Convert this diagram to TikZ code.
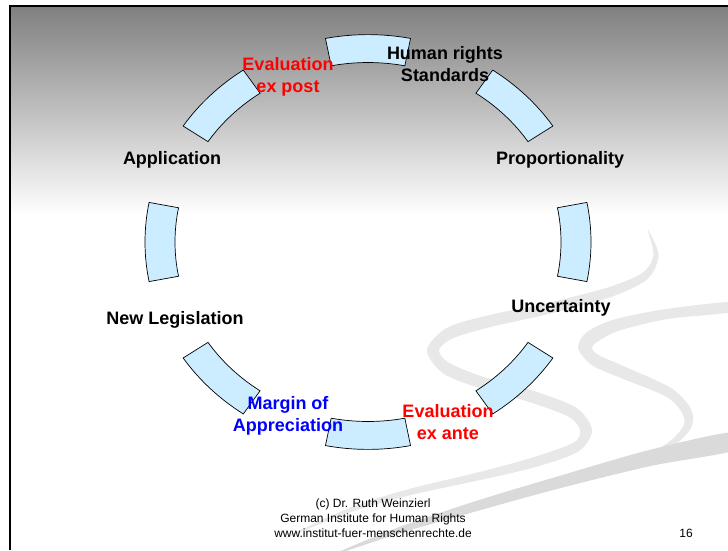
\documentclass[tikz,border=0pt]{standalone}
\usepackage{fontspec}
\setmainfont{Liberation Sans}
\usepackage{tikz}
\definecolor{segblue}{HTML}{CCECFF}
\definecolor{evalred}{HTML}{FF0000}
\definecolor{marginblue}{HTML}{0000FF}
\definecolor{slidegray}{HTML}{808080}
\definecolor{swooshlight}{HTML}{E8E8E8}
\definecolor{swooshdark}{HTML}{DADADA}
\tikzset{
  rseg/.style={draw=black,line width=0.7pt,fill=segblue},
  clabel/.style={font=\fontsize{18}{22}\selectfont\bfseries,align=center,inner sep=0pt},
  flabel/.style={font=\fontsize{12}{15}\selectfont,align=center,inner sep=0pt}
}

\begin{document}
\begin{tikzpicture}[x=1pt,y=-1pt]
\useasboundingbox (0,0) rectangle (728,550);
% slide background and frame
\shade[top color=slidegray,bottom color=white] (11,7) rectangle (728,215);
\draw[line width=2pt] (10,550) -- (10,6) -- (728,6);
% swooshes
\fill[swooshlight] plot[smooth cycle] coordinates {(648,230) (658.5,255) (647.5,279) (611.7,296.7) (551.3,313.3) (491.4,326.8) (453.1,338.2) (439,350) (449.1,362.8) (482,376.4) (532,390.4) (576,407.6) (592,430) (578.6,451.3) (536.5,466.8) (481.2,479.8) (411,495) (351,512) (285,538) (349,508) (409,489) (478.8,472.2) (533.5,457.2) (573.4,442.7) (580,430) (568,416.4) (528,401.6) (478,387.6) (442.9,373.2) (427,350) (446.9,327.8) (488.6,315.2) (548.7,302.7) (608.3,287.3) (642.5,272.9) (653.5,255)};
\fill[swooshlight] plot[smooth cycle] coordinates {(732,312) (667.6,319) (618.7,330.8) (597,342) (592,348) (598,354.8) (624.2,366.4) (670.9,387.9) (690.8,408.6) (691.8,426.2) (677.9,442.3) (655,452) (674.1,437.7) (684.2,423.8) (681.2,411.4) (665.1,396.1) (619.8,377.6) (592,365.2) (578,348) (587,332) (615.3,319.2) (666.4,309) (732,302)};
\fill[swooshdark] plot[smooth cycle] coordinates {(736.8,449.8) (651.6,465.8) (561.6,487.8) (481.5,509.8) (400.9,532.9) (330,556) (399.1,527.1) (478.5,500.2) (558.4,476.2) (648.4,450.2) (733.2,432.2)};
% ring of segments
\begin{scope}[shift={(368,242)},yscale=0.93]
  \foreach \a in {0,45,...,315}{
    \draw[rseg] (\a-11:223) arc[start angle=\a-11,end angle=\a+11,radius=223]
      -- (\a+11:193) arc[start angle=\a+11,end angle=\a-11,radius=193] -- cycle;
  }
\end{scope}
% labels round the ring
\node[clabel] (hr) at (445,64) {Human rights\\Standards};
\node[clabel] (prop) at (560,160) {Proportionality};
\node[clabel] (unc) at (561,308) {Uncertainty};
\node[clabel,text=evalred] (evante) at (448,422) {Evaluation\\ex ante};
\node[clabel,text=marginblue] (margin) at (288,416) {Margin of\\Appreciation};
\node[clabel] (newleg) at (175,320) {New Legislation};
\node[clabel] (appl) at (172,160) {Application};
\node[clabel,text=evalred] (evpost) at (288,77) {Evaluation\\ex post};
% footer
\node[flabel] (credit) at (373,518) {(c) Dr. Ruth Weinzierl\\German Institute for Human Rights\\www.institut-fuer-menschenrechte.de};
\node[flabel] (pageno) at (686,533) {16};
\end{tikzpicture}
\end{document}
